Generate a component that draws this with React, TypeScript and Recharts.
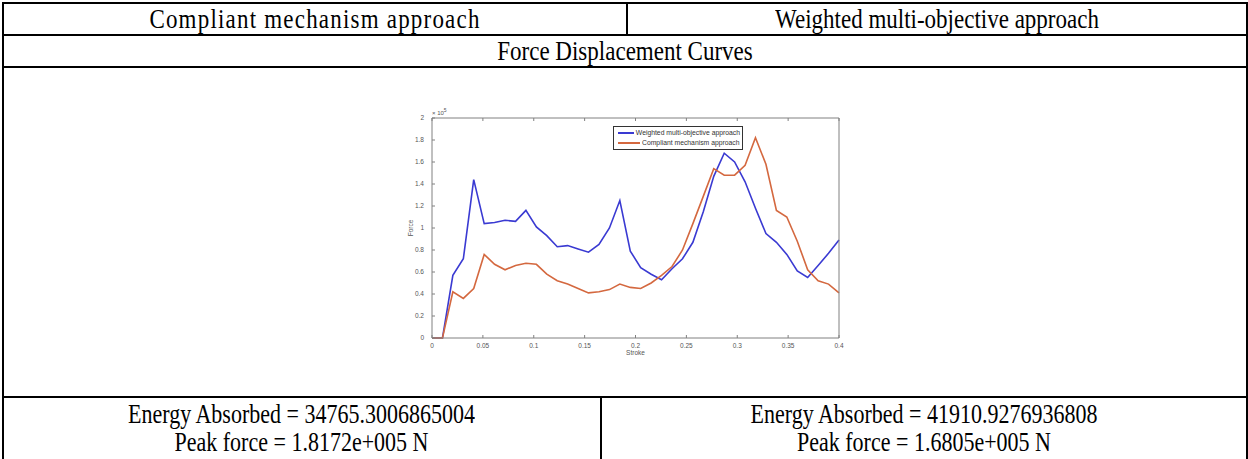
import React from 'react';
import { LineChart, Line, XAxis, YAxis, Legend } from 'recharts';

// ---- data ----
const strokeValues = [
  0, 0.0103, 0.0205, 0.0308, 0.041, 0.0513, 0.0615, 0.0718, 0.0821, 0.0923,
  0.1026, 0.1128, 0.1231, 0.1333, 0.1436, 0.1538, 0.1641, 0.1744, 0.1846, 0.1949,
  0.2051, 0.2154, 0.2256, 0.2359, 0.2462, 0.2564, 0.2667, 0.2769, 0.2872, 0.2974,
  0.3077, 0.3179, 0.3282, 0.3385, 0.3487, 0.359, 0.3692, 0.3795, 0.3897, 0.4,
];
// force values in units of 10^5
const weightedForce = [
  0, 0, 0.57, 0.72, 1.44, 1.04, 1.05, 1.07, 1.06, 1.16,
  1.01, 0.93, 0.83, 0.84, 0.81, 0.78, 0.85, 1.0, 1.25, 0.79,
  0.64, 0.58, 0.53, 0.63, 0.72, 0.87, 1.15, 1.47, 1.68, 1.6,
  1.42, 1.18, 0.95, 0.87, 0.76, 0.61, 0.55, 0.66, 0.77, 0.89,
];
const compliantForce = [
  0, 0, 0.42, 0.36, 0.45, 0.76, 0.67, 0.62, 0.66, 0.68,
  0.67, 0.58, 0.52, 0.49, 0.45, 0.41, 0.42, 0.44, 0.49, 0.46,
  0.45, 0.5, 0.57, 0.65, 0.8, 1.04, 1.29, 1.54, 1.48, 1.48,
  1.57, 1.82, 1.58, 1.16, 1.1, 0.88, 0.62, 0.52, 0.49, 0.41,
];
const xTicks = [0, 0.05, 0.1, 0.15, 0.2, 0.25, 0.3, 0.35, 0.4];
const yTicks = [0, 0.2, 0.4, 0.6, 0.8, 1, 1.2, 1.4, 1.6, 1.8, 2];
const seriesNames = ['Weighted multi-objective approach', 'Compliant mechanism approach'];
const seriesColors = ['#3a3ad2', '#d4683f'];
const xAxisTitle = 'Stroke';
const yAxisTitle = 'Force';
const yExponent = '5';

const headerLabels = ['Compliant mechanism approach', 'Weighted multi-objective approach'];
const sectionTitle = 'Force Displacement Curves';
const energyLines = ['Energy Absorbed = 34765.3006865004', 'Energy Absorbed = 41910.9276936808'];
const peakLines = ['Peak force = 1.8172e+005 N', 'Peak force = 1.6805e+005 N'];

const data = strokeValues.map((s, i) => ({
  stroke: s,
  weighted: weightedForce[i],
  compliant: compliantForce[i],
}));

const AXIS = '#808080';
const LABEL = '#555';
const CHART_FONT = '"Liberation Sans", Arial, sans-serif';

const BottomTick = (p: any) => {
  const axisY = p.y - 5;
  return (
    <g>
      <line x1={p.x} x2={p.x} y1={axisY} y2={axisY - 3} stroke={AXIS} strokeWidth={1} />
      <text x={p.x} y={p.y} dy="0.75em" textAnchor="middle" fontSize={6.5} fill={LABEL} fontFamily={CHART_FONT}>
        {String(p.payload.value)}
      </text>
    </g>
  );
};
const LeftTick = (p: any) => {
  const axisX = p.x + 8;
  return (
    <g>
      <line x1={axisX} x2={axisX + 3} y1={p.y} y2={p.y} stroke={AXIS} strokeWidth={1} />
      <text x={p.x} y={p.y} dy="0.35em" textAnchor="end" fontSize={6.5} fill={LABEL} fontFamily={CHART_FONT}>
        {String(p.payload.value)}
      </text>
    </g>
  );
};
const TopTick = (p: any) => {
  const axisY = p.y + 1;
  return <line x1={p.x} x2={p.x} y1={axisY} y2={axisY + 3} stroke={AXIS} strokeWidth={1} />;
};
const RightTick = (p: any) => {
  const axisX = p.x - 1;
  return <line x1={axisX} x2={axisX - 3} y1={p.y} y2={p.y} stroke={AXIS} strokeWidth={1} />;
};

const LegendBox = () => (
  <div
    style={{
      border: '1px solid #333',
      background: '#fff',
      padding: '1px 2px 1px 4px',
      fontFamily: CHART_FONT,
      fontSize: 6.8,
      color: '#333',
      lineHeight: '10px',
      width: 130,
      boxSizing: 'border-box',
    }}
  >
    {seriesNames.map((n, i) => (
      <div key={n} style={{ display: 'flex', alignItems: 'center', height: 10 }}>
        <span style={{ display: 'inline-block', width: 22, height: 2, background: seriesColors[i], marginRight: 2 }} />
        <span style={{ whiteSpace: 'nowrap' }}>{n}</span>
      </div>
    ))}
  </div>
);

const Chart = () => (
  <LineChart
    width={469}
    height={270}
    data={data}
    margin={{ top: 10, right: 2, bottom: 0, left: 0 }}
    style={{ background: 'transparent' }}
  >
    <XAxis
      xAxisId="top"
      orientation="top"
      type="number"
      dataKey="stroke"
      domain={[0, 0.4]}
      ticks={xTicks}
      height={8}
      tickSize={1}
      tickMargin={0}
      tickLine={false}
      tick={<TopTick />}
      stroke={AXIS}
      label={{
        content: (lp: any) => (
          <text x={lp.viewBox.x} y={lp.viewBox.y + 5} fontSize={6} fill={LABEL} fontFamily={CHART_FONT}>
            × 10
            <tspan fontSize={5} dy={-3}>{yExponent}</tspan>
          </text>
        ),
      }}
    />
    <XAxis
      type="number"
      dataKey="stroke"
      domain={[0, 0.4]}
      ticks={xTicks}
      height={32}
      tickSize={4}
      tickMargin={1}
      tickLine={false}
      tick={<BottomTick />}
      stroke={AXIS}
      interval={0}
      label={{
        content: (lp: any) => (
          <text
            x={lp.viewBox.x + lp.viewBox.width / 2}
            y={lp.viewBox.y + 17}
            textAnchor="middle"
            fontSize={6.5}
            fill={LABEL}
            fontFamily={CHART_FONT}
          >
            {xAxisTitle}
          </text>
        ),
      }}
    />
    <YAxis
      type="number"
      domain={[0, 2]}
      ticks={yTicks}
      width={52}
      tickSize={4}
      tickMargin={4}
      tickLine={false}
      tick={<LeftTick />}
      stroke={AXIS}
      interval={0}
      label={{
        content: (lp: any) => {
          const cx = lp.viewBox.x + 33;
          const cy = lp.viewBox.y + lp.viewBox.height / 2;
          return (
            <text
              x={cx}
              y={cy}
              textAnchor="middle"
              transform={`rotate(-90 ${cx} ${cy})`}
              fontSize={6.5}
              fill={LABEL}
              fontFamily={CHART_FONT}
            >
              {yAxisTitle}
            </text>
          );
        },
      }}
    />
    <YAxis
      yAxisId="right"
      orientation="right"
      type="number"
      domain={[0, 2]}
      ticks={yTicks}
      width={8}
      tickSize={1}
      tickMargin={0}
      tickLine={false}
      tick={<RightTick />}
      stroke={AXIS}
      interval={0}
    />
    <Legend
      layout="vertical"
      align="center"
      verticalAlign="middle"
      wrapperStyle={{ left: 233, top: 26, width: 130 }}
      content={() => <LegendBox />}
    />
    <Line
      type="linear"
      dataKey="weighted"
      name={seriesNames[0]}
      stroke={seriesColors[0]}
      strokeWidth={1.6}
      dot={false}
      isAnimationActive={false}
    />
    <Line
      type="linear"
      dataKey="compliant"
      name={seriesNames[1]}
      stroke={seriesColors[1]}
      strokeWidth={1.6}
      dot={false}
      isAnimationActive={false}
    />
  </LineChart>
);

const line = (left: number, top: number, width: number, height: number) => (
  <div style={{ position: 'absolute', left, top, width, height, background: '#000' }} />
);

const cell = (
  left: number,
  top: number,
  width: number,
  height: number,
  lines: string[],
  fontSize: number,
  letterSpacing = 0,
) => (
  <div
    style={{
      position: 'absolute',
      left,
      top,
      width,
      height,
      display: 'flex',
      flexDirection: 'column',
      alignItems: 'center',
      justifyContent: 'center',
      fontSize,
      letterSpacing,
      lineHeight: '28px',
      color: '#000',
      whiteSpace: 'nowrap',
    }}
  >
    {lines.map((t) => (
      <div key={t} style={{ transform: 'scaleY(1.2)' }}>
        {t}
      </div>
    ))}
  </div>
);

export default function App() {
  return (
    <div
      style={{
        position: 'absolute',
        left: 0,
        top: 0,
        width: 1248,
        height: 459,
        background: '#fff',
        overflow: 'hidden',
        fontFamily: '"Liberation Serif", "Times New Roman", serif',
      }}
    >
      {cell(3, 4, 624, 31, [headerLabels[0]], 23, 1.2)}
      {cell(627, 4, 620, 31, [headerLabels[1]], 23)}
      {cell(3, 36, 1244, 31, [sectionTitle], 23)}
      {cell(3, 398, 597, 61, [energyLines[0], peakLines[0]], 22)}
      {cell(601, 398, 646, 61, [energyLines[1], peakLines[1]], 22)}
      {line(2, 2, 1246, 2)}
      {line(2, 34, 1246, 2)}
      {line(2, 66, 1246, 2)}
      {line(2, 396, 1246, 2)}
      {line(2, 2, 2, 457)}
      {line(1246, 2, 2, 457)}
      {line(626, 2, 2, 34)}
      {line(600, 396, 2, 63)}
      <div style={{ position: 'absolute', left: 380, top: 100 }}>
        <Chart />
      </div>
    </div>
  );
}
